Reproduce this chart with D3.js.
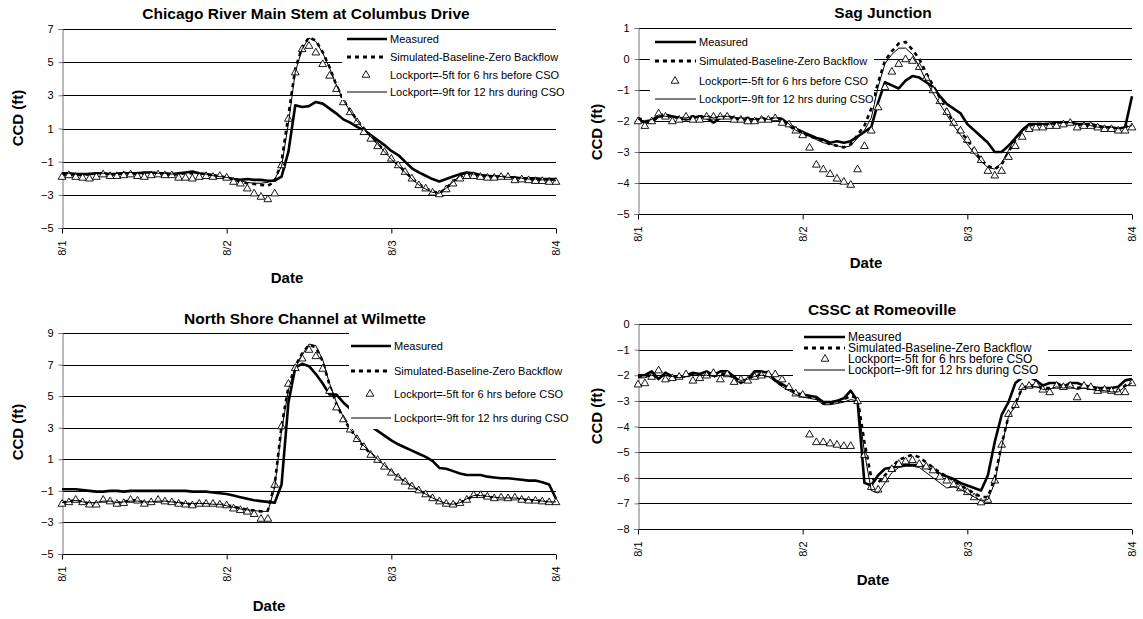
<!DOCTYPE html>
<html><head><meta charset="utf-8">
<script src="https://cdn.jsdelivr.net/npm/d3@7"></script>
<style>
body{margin:0;background:#fff}
svg{display:block}
text{font-family:"Liberation Sans",Arial,sans-serif;fill:#000}
</style>
</head><body>
<svg id="chart" width="1143" height="619"></svg>
<script>
// ---------- shared data ----------
const hours = d3.range(0, 73);            // hourly samples, 8/1 00:00 .. 8/4 00:00
const dateTicks = [0, 24, 48, 72];
const dateLabels = ["8/1", "8/2", "8/3", "8/4"];
const seriesNames = ["Measured", "Simulated-Baseline-Zero Backflow",
  "Lockport=-5ft for 6 hrs before CSO", "Lockport=-9ft for 12 hrs during CSO"];
const titles = ["Chicago River Main Stem at Columbus Drive", "Sag Junction",
  "North Shore Channel at Wilmette", "CSSC at Romeoville"];
const yTitle = "CCD (ft)";
const xTitle = "Date";

// ---------- Panel 1: Chicago River Main Stem at Columbus Drive ----------
const yTicks1 = [-5, -3, -1, 1, 3, 5, 7];
const meas1 = [-1.7,-1.7,-1.75,-1.75,-1.75,-1.7,-1.7,-1.75,-1.75,-1.7,-1.7,-1.7,-1.65,-1.65,-1.7,-1.7,-1.75,-1.7,-1.65,-1.6,-1.7,-1.75,-1.8,-1.9,
  -1.95,-2.05,-2.1,-2.05,-2.1,-2.1,-2.15,-2.15,-1.9,-0.4,2.4,2.3,2.35,2.6,2.5,2.2,1.9,1.55,1.35,1.1,0.9,0.6,0.3,0.0,
  -0.35,-0.6,-1.0,-1.4,-1.65,-1.85,-2.05,-2.2,-2.05,-1.9,-1.75,-1.65,-1.7,-1.8,-1.85,-1.9,-1.9,-1.95,-1.95,-2.0,-2.0,-2.0,-2.05,-2.05,-2.05];
const sim1 = [-1.8,-1.75,-1.8,-1.8,-1.75,-1.75,-1.75,-1.8,-1.75,-1.7,-1.7,-1.75,-1.7,-1.7,-1.75,-1.75,-1.8,-1.75,-1.7,-1.7,-1.75,-1.8,-1.85,-1.9,
  -1.95,-2.1,-2.2,-2.3,-2.35,-2.4,-2.45,-2.2,-1.0,1.8,4.6,5.9,6.5,6.3,5.6,4.7,3.6,2.7,2.1,1.5,1.0,0.55,0.1,-0.35,
  -0.8,-1.2,-1.6,-2.0,-2.35,-2.6,-2.8,-2.9,-2.6,-2.2,-1.9,-1.75,-1.8,-1.85,-1.9,-1.9,-1.9,-1.95,-2.0,-2.0,-2.05,-2.1,-2.1,-2.15,-2.15];
const lp5_1 = [-1.9,-1.8,-1.9,-1.95,-2.0,-1.9,-1.75,-1.85,-1.85,-1.8,-1.75,-1.85,-1.9,-1.8,-1.75,-1.8,-1.8,-1.95,-1.95,-2.0,-1.9,-1.85,-1.9,-1.85,
  -1.95,-2.2,-2.3,-2.6,-2.9,-3.1,-3.25,-2.9,-1.2,1.6,4.4,5.8,6.0,5.6,4.9,4.2,3.4,2.6,2.0,1.4,0.8,0.4,-0.05,-0.4,
  -0.8,-1.2,-1.6,-2.0,-2.4,-2.6,-2.85,-2.95,-2.65,-2.3,-2.0,-1.85,-1.85,-1.9,-1.95,-1.95,-1.9,-1.9,-2.1,-2.05,-2.1,-2.15,-2.15,-2.2,-2.2];
const lp9_1 = [-1.75,-1.7,-1.75,-1.75,-1.7,-1.7,-1.7,-1.75,-1.7,-1.65,-1.65,-1.7,-1.65,-1.65,-1.7,-1.7,-1.75,-1.7,-1.65,-1.65,-1.7,-1.75,-1.85,-1.9,
  -1.95,-2.05,-2.15,-2.25,-2.3,-2.3,-2.25,-2.05,-1.3,1.3,4.4,5.8,6.45,6.25,5.55,4.65,3.6,2.7,2.05,1.45,0.95,0.5,0.05,-0.4,
  -0.85,-1.25,-1.65,-2.05,-2.4,-2.65,-2.85,-2.9,-2.6,-2.2,-1.85,-1.7,-1.75,-1.8,-1.85,-1.85,-1.9,-1.95,-1.95,-2.0,-2.05,-2.05,-2.1,-2.1,-2.15];

// ---------- Panel 2: Sag Junction ----------
const yTicks2 = [-5, -4, -3, -2, -1, 0, 1];
const meas2 = [-1.95,-2.05,-2.05,-1.85,-1.85,-1.85,-1.9,-1.95,-1.9,-1.85,-1.9,-2.05,-1.9,-1.85,-1.9,-1.95,-1.95,-1.95,-1.95,-1.95,-1.9,-1.95,-2.1,-2.25,
  -2.35,-2.45,-2.55,-2.6,-2.7,-2.65,-2.7,-2.65,-2.5,-2.35,-2.2,-1.4,-0.75,-0.85,-0.95,-0.7,-0.55,-0.6,-0.75,-0.9,-1.2,-1.45,-1.6,-1.75,
  -2.1,-2.3,-2.5,-2.7,-3.0,-3.0,-2.8,-2.55,-2.3,-2.1,-2.1,-2.1,-2.1,-2.05,-2.05,-2.05,-2.1,-2.1,-2.1,-2.15,-2.2,-2.2,-2.25,-2.2,-1.2];
const sim2 = [-1.9,-2.0,-2.0,-1.8,-1.8,-1.85,-1.9,-1.9,-1.85,-1.85,-1.85,-1.9,-1.9,-1.85,-1.9,-1.95,-1.9,-1.95,-1.9,-1.95,-1.9,-1.95,-2.15,-2.3,
  -2.4,-2.5,-2.55,-2.65,-2.75,-2.8,-2.85,-2.75,-2.45,-2.15,-1.6,-0.75,-0.05,0.25,0.5,0.55,0.3,0.0,-0.45,-0.85,-1.25,-1.65,-2.05,-2.35,
  -2.6,-2.95,-3.25,-3.45,-3.55,-3.4,-3.0,-2.6,-2.3,-2.15,-2.1,-2.1,-2.1,-2.1,-2.05,-2.05,-2.1,-2.15,-2.15,-2.2,-2.2,-2.25,-2.25,-2.2,-2.1];
const lp5_2 = [-2.0,-2.15,-2.0,-1.75,-1.85,-2.0,-1.95,-1.85,-1.95,-1.95,-1.85,-1.85,-1.85,-1.85,-1.95,-1.95,-2.0,-2.0,-1.95,-1.95,-1.9,-2.05,-2.1,-2.3,
  -2.45,-2.85,-3.4,-3.55,-3.7,-3.85,-3.95,-4.05,-3.55,-2.8,-2.3,-1.55,-0.9,-0.4,-0.15,0.0,-0.05,-0.25,-0.6,-1.0,-1.35,-1.7,-2.05,-2.3,
  -2.6,-2.95,-3.25,-3.6,-3.75,-3.6,-3.15,-2.8,-2.5,-2.25,-2.2,-2.2,-2.15,-2.15,-2.1,-2.05,-2.2,-2.15,-2.15,-2.2,-2.25,-2.25,-2.3,-2.3,-2.2];
const lp9_2 = [-1.95,-2.0,-1.95,-1.8,-1.85,-1.85,-1.9,-1.9,-1.85,-1.85,-1.85,-1.9,-1.85,-1.85,-1.9,-1.9,-1.9,-1.95,-1.9,-1.95,-1.9,-1.9,-2.1,-2.3,
  -2.4,-2.5,-2.6,-2.7,-2.75,-2.8,-2.85,-2.8,-2.55,-2.3,-1.9,-0.9,-0.15,0.15,0.35,0.35,0.15,-0.25,-0.7,-1.1,-1.45,-1.8,-2.15,-2.45,
  -2.75,-3.05,-3.3,-3.5,-3.55,-3.35,-2.95,-2.55,-2.25,-2.1,-2.1,-2.1,-2.1,-2.05,-2.05,-2.05,-2.1,-2.1,-2.15,-2.2,-2.2,-2.2,-2.25,-2.2,-2.15];

// ---------- Panel 3: North Shore Channel at Wilmette ----------
const yTicks3 = [-5, -3, -1, 1, 3, 5, 7, 9];
const meas3 = [-0.9,-0.9,-0.9,-0.95,-1.0,-1.05,-1.05,-1.0,-1.0,-1.05,-1.0,-1.0,-1.0,-1.0,-1.0,-1.0,-1.0,-1.0,-1.0,-1.05,-1.05,-1.05,-1.1,-1.15,
  -1.2,-1.3,-1.4,-1.5,-1.6,-1.65,-1.7,-1.75,-0.6,4.6,6.8,7.05,6.9,6.4,5.8,5.1,5.1,4.6,4.2,3.8,3.4,3.1,2.8,2.5,
  2.2,1.95,1.75,1.55,1.35,1.15,0.9,0.45,0.4,0.25,0.1,0.0,0.0,0.0,-0.1,-0.15,-0.2,-0.2,-0.25,-0.3,-0.35,-0.35,-0.45,-0.6,-1.5];
const sim3 = [-1.75,-1.65,-1.6,-1.7,-1.8,-1.8,-1.6,-1.65,-1.75,-1.7,-1.6,-1.6,-1.75,-1.7,-1.6,-1.65,-1.7,-1.75,-1.8,-1.85,-1.8,-1.8,-1.8,-1.85,
  -1.9,-2.0,-2.1,-2.2,-2.25,-2.3,-2.25,-0.6,3.1,5.6,6.9,7.7,8.25,8.1,7.2,5.7,4.5,3.6,2.9,2.3,1.8,1.35,1.0,0.6,
  0.2,-0.1,-0.4,-0.7,-0.95,-1.2,-1.45,-1.65,-1.8,-1.85,-1.75,-1.55,-1.3,-1.3,-1.35,-1.45,-1.45,-1.45,-1.45,-1.55,-1.6,-1.6,-1.65,-1.7,-1.7];
const lp5_3 = [-1.8,-1.7,-1.55,-1.7,-1.85,-1.85,-1.55,-1.65,-1.8,-1.75,-1.55,-1.6,-1.8,-1.7,-1.55,-1.65,-1.7,-1.8,-1.85,-1.9,-1.8,-1.8,-1.8,-1.85,
  -1.9,-2.1,-2.2,-2.3,-2.45,-2.75,-2.75,-0.6,3.1,5.8,6.8,7.4,7.95,7.55,6.75,5.35,4.3,3.55,2.9,2.3,1.8,1.3,0.98,0.55,
  0.17,-0.14,-0.4,-0.7,-0.95,-1.2,-1.45,-1.65,-1.8,-1.85,-1.75,-1.55,-1.25,-1.25,-1.35,-1.45,-1.4,-1.45,-1.4,-1.55,-1.6,-1.6,-1.65,-1.7,-1.7];
const lp9_3 = [-1.75,-1.7,-1.6,-1.7,-1.75,-1.75,-1.65,-1.65,-1.75,-1.7,-1.65,-1.65,-1.7,-1.7,-1.65,-1.65,-1.7,-1.75,-1.8,-1.8,-1.8,-1.8,-1.85,-1.85,
  -1.95,-2.05,-2.15,-2.2,-2.25,-2.3,-2.3,-0.8,2.8,5.4,6.8,7.6,8.3,8.2,7.3,5.8,4.6,3.7,2.95,2.35,1.85,1.4,1.0,0.6,
  0.25,-0.1,-0.4,-0.7,-0.95,-1.2,-1.45,-1.65,-1.8,-1.85,-1.75,-1.5,-1.3,-1.3,-1.35,-1.4,-1.45,-1.45,-1.45,-1.5,-1.55,-1.6,-1.65,-1.7,-1.7];

// ---------- Panel 4: CSSC at Romeoville ----------
const yTicks4 = [-8, -7, -6, -5, -4, -3, -2, -1, 0];
const meas4 = [-2.0,-2.0,-1.85,-2.15,-1.9,-2.05,-2.1,-2.0,-1.9,-1.95,-1.85,-2.0,-1.85,-1.85,-2.05,-2.3,-2.15,-1.85,-1.85,-1.9,-2.2,-2.35,-2.5,-2.7,
  -2.75,-2.8,-2.85,-3.05,-3.05,-3.0,-2.9,-2.6,-3.0,-6.2,-6.3,-5.9,-5.65,-5.6,-5.55,-5.5,-5.5,-5.5,-5.6,-5.7,-5.85,-5.95,-6.05,-6.2,
  -6.3,-6.4,-6.5,-5.9,-4.6,-3.55,-3.05,-2.3,-2.1,-2.05,-2.2,-2.4,-2.3,-2.3,-2.45,-2.3,-2.3,-2.4,-2.45,-2.5,-2.5,-2.5,-2.45,-2.2,-2.15];
const sim4 = [-2.05,-2.05,-1.95,-2.1,-1.95,-2.05,-2.1,-2.0,-1.95,-2.0,-1.95,-2.05,-1.95,-1.95,-2.1,-2.25,-2.15,-2.0,-1.95,-2.0,-2.2,-2.4,-2.55,-2.7,
  -2.8,-2.85,-2.9,-3.1,-3.1,-3.05,-2.95,-2.8,-2.9,-4.6,-6.0,-6.2,-5.9,-5.6,-5.3,-5.2,-5.1,-5.2,-5.4,-5.6,-5.8,-5.95,-6.1,-6.3,
  -6.45,-6.6,-6.75,-6.75,-6.0,-4.7,-3.6,-3.1,-2.5,-2.4,-2.4,-2.5,-2.5,-2.4,-2.45,-2.4,-2.5,-2.45,-2.5,-2.55,-2.55,-2.6,-2.6,-2.4,-2.25];
const lp5_4 = [-2.35,-2.3,-2.05,-1.8,-2.15,-2.1,-2.05,-1.95,-2.2,-2.1,-2.0,-1.9,-2.15,-1.95,-2.25,-2.15,-2.2,-2.05,-2.0,-1.95,-1.95,-2.15,-2.45,-2.7,
  -2.75,-4.3,-4.6,-4.6,-4.65,-4.7,-4.75,-4.75,-3.0,-5.1,-6.35,-6.45,-6.05,-5.65,-5.45,-5.35,-5.3,-5.45,-5.55,-5.7,-5.95,-6.1,-6.25,-6.4,
  -6.55,-6.75,-6.95,-6.85,-6.1,-4.7,-3.5,-3.15,-2.45,-2.4,-2.35,-2.55,-2.65,-2.4,-2.45,-2.4,-2.85,-2.4,-2.45,-2.6,-2.55,-2.6,-2.65,-2.65,-2.3];
const lp9_4 = [-2.1,-2.1,-2.0,-2.1,-2.0,-2.05,-2.1,-2.05,-2.0,-2.0,-2.0,-2.05,-2.0,-2.0,-2.1,-2.2,-2.15,-2.05,-2.0,-2.05,-2.25,-2.45,-2.6,-2.75,
  -2.85,-2.9,-2.95,-3.15,-3.15,-3.1,-3.05,-2.95,-3.0,-5.0,-6.5,-6.6,-6.2,-5.8,-5.6,-5.55,-5.55,-5.6,-5.8,-6.0,-6.2,-6.4,-6.35,-6.45,
  -6.6,-6.75,-6.9,-6.85,-6.2,-4.8,-3.6,-3.2,-2.5,-2.45,-2.45,-2.55,-2.55,-2.45,-2.5,-2.45,-2.55,-2.5,-2.55,-2.6,-2.6,-2.65,-2.65,-2.45,-2.3];

// ---------- layout (positions only) ----------
const panels = [
  {title: titles[0], yTicks: yTicks1, series: [meas1, sim1, lp5_1, lp9_1],
   x0: 62, x1: 556, yTop: 29, yBot: 228, titleXY: [306, 14], yLabXY: [18, 118], xLabXY: [287, 278],
   leg: {box: [342, 30, 230, 70], rows: [39, 57, 75, 92], lx: [347, 387], tx: 390, triX: 366, fs: 11}},
  {title: titles[1], yTicks: yTicks2, series: [meas2, sim2, lp5_2, lp9_2],
   x0: 638, x1: 1132, yTop: 28, yBot: 214, titleXY: [883, 13], yLabXY: [597, 132], xLabXY: [866, 263],
   leg: {box: [650, 33, 224, 72], rows: [42, 61, 81, 99], lx: [655, 696], tx: 699, triX: 675, fs: 11}},
  {title: titles[2], yTicks: yTicks3, series: [meas3, sim3, lp5_3, lp9_3],
   x0: 62, x1: 556, yTop: 333, yBot: 554, titleXY: [305, 319], yLabXY: [18, 432], xLabXY: [269, 606],
   leg: {box: [349, 331, 225, 98], rows: [346, 371, 394, 418], lx: [351, 391], tx: 394, triX: 370, fs: 11}},
  {title: titles[3], yTicks: yTicks4, series: [meas4, sim4, lp5_4, lp9_4],
   x0: 638, x1: 1132, yTop: 324, yBot: 529, titleXY: [882, 310], yLabXY: [597, 416], xLabXY: [873, 580],
   leg: {box: [793, 327, 255, 52], rows: [337, 348, 359, 370], lx: [804, 845], tx: 848, triX: 825, fs: 12}}
];

const svg = d3.select("#chart");
const tri = d3.symbol().type(d3.symbolTriangle).size(26);

panels.forEach(p => {
  const g = svg.append("g");
  const x = d3.scaleLinear().domain([0, 72]).range([p.x0, p.x1]);
  const y = d3.scaleLinear().domain(d3.extent(p.yTicks)).range([p.yBot, p.yTop]);
  const px = v => Math.round(v) + 0.5;

  // gridlines
  g.selectAll(".grid").data(p.yTicks).join("line")
    .attr("x1", p.x0).attr("x2", p.x1)
    .attr("y1", d => px(y(d))).attr("y2", d => px(y(d)))
    .attr("stroke", "#000").attr("stroke-width", 1);

  // y axis
  const yAxis = d3.axisLeft(y).tickValues(p.yTicks).tickSize(4).tickPadding(5).tickFormat(d3.format("d"));
  const ya = g.append("g").attr("transform", `translate(${px(p.x0)},0)`).call(yAxis);
  ya.select(".domain").attr("stroke", "#777");
  ya.selectAll(".tick line").attr("stroke", "#777");
  ya.selectAll("text").attr("font-size", 11).attr("font-family", '"Liberation Sans",Arial,sans-serif').attr("fill", "#000");

  // x axis
  const xAxis = d3.axisBottom(x).tickValues(dateTicks).tickSize(5).tickFormat((d, i) => dateLabels[i]);
  const xa = g.append("g").attr("transform", `translate(0,${px(p.yBot)})`).call(xAxis);
  xa.select(".domain").remove();
  xa.selectAll(".tick line").attr("stroke", "#000");
  xa.selectAll("text")
    .attr("font-size", 11).attr("font-family", '"Liberation Sans",Arial,sans-serif').attr("fill", "#000")
    .attr("transform", "rotate(-90)")
    .attr("x", -12).attr("y", 0).attr("dy", "0.35em")
    .attr("text-anchor", "end");

  const line = d3.line().x((d, i) => x(hours[i])).y(d => y(d));
  const [meas, sim, lp5, lp9] = p.series;

  g.append("path").attr("d", line(meas)).attr("fill", "none")
    .attr("stroke", "#000").attr("stroke-width", 2.6).attr("stroke-linejoin", "round");
  g.append("path").attr("d", line(sim)).attr("fill", "none")
    .attr("stroke", "#000").attr("stroke-width", 2.6).attr("stroke-dasharray", "4,4");
  g.selectAll(".tri").data(lp5).join("path")
    .attr("d", tri)
    .attr("transform", (d, i) => `translate(${x(hours[i])},${y(d) + 0.5})`)
    .attr("fill", "#fff").attr("stroke", "#000").attr("stroke-width", 0.9);
  g.append("path").attr("d", line(lp9)).attr("fill", "none")
    .attr("stroke", "#000").attr("stroke-width", 1);

  // legend
  const L = p.leg;
  g.append("rect").attr("x", L.box[0]).attr("y", L.box[1]).attr("width", L.box[2]).attr("height", L.box[3]).attr("fill", "#fff");
  const styles = [
    {w: 2.6, dash: null}, {w: 3, dash: "4,4"}, null, {w: 1, dash: null}
  ];
  seriesNames.forEach((name, i) => {
    const ry = L.rows[i];
    if (styles[i]) {
      g.append("line").attr("x1", L.lx[0]).attr("x2", L.lx[1]).attr("y1", ry).attr("y2", ry)
        .attr("stroke", "#000").attr("stroke-width", styles[i].w)
        .attr("stroke-dasharray", styles[i].dash);
    } else {
      g.append("path").attr("d", tri).attr("transform", `translate(${L.triX},${ry})`)
        .attr("fill", "#fff").attr("stroke", "#000").attr("stroke-width", 0.9);
    }
    g.append("text").attr("x", L.tx).attr("y", ry).attr("dy", "0.35em")
      .attr("font-size", L.fs).text(name);
  });

  // titles
  g.append("text").attr("x", p.titleXY[0]).attr("y", p.titleXY[1]).attr("dy", "0.35em")
    .attr("text-anchor", "middle").attr("font-weight", "bold").attr("font-size", 15.5).text(p.title);
  g.append("text").attr("transform", `translate(${p.yLabXY[0]},${p.yLabXY[1]}) rotate(-90)`)
    .attr("dy", "0.35em").attr("text-anchor", "middle").attr("font-weight", "bold").attr("font-size", 15).text(yTitle);
  g.append("text").attr("x", p.xLabXY[0]).attr("y", p.xLabXY[1]).attr("dy", "0.35em")
    .attr("text-anchor", "middle").attr("font-weight", "bold").attr("font-size", 15).text(xTitle);
});
</script>
</body></html>
